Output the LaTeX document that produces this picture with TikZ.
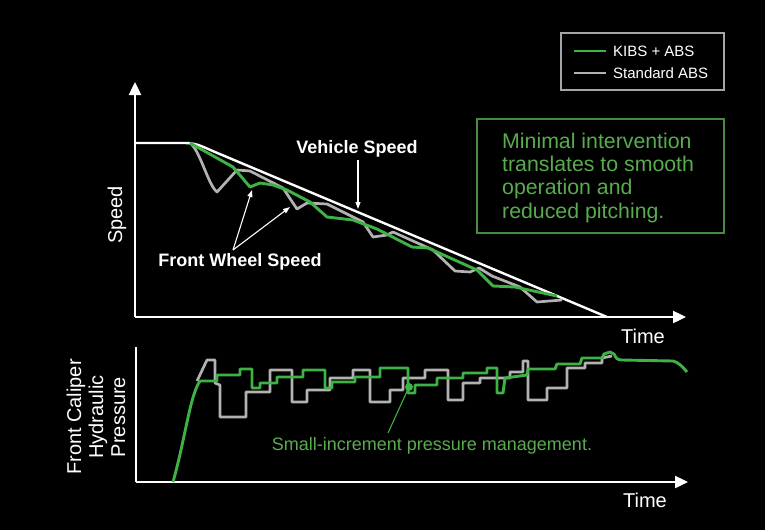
\documentclass[tikz,border=0pt]{standalone}
\usepackage{fontspec}
\setmainfont{Liberation Sans}
\usetikzlibrary{arrows.meta}
\definecolor{kgreen}{RGB}{62,178,68}
\definecolor{tgreen}{RGB}{88,172,78}
\definecolor{bgreen}{RGB}{72,138,66}
\definecolor{sgray}{RGB}{178,178,178}
\definecolor{lgray}{RGB}{165,165,165}
\begin{document}
\begin{tikzpicture}[x=1pt,y=-1pt,
  axisline/.style={white,line width=2.4pt},
  axisarrow/.style={axisline,-{Triangle[length=13pt,width=12pt]}},
  kibs/.style={kgreen,line width=2.9pt,line join=round},
  stdabs/.style={sgray,line width=2.7pt,line join=round},
  vspeed/.style={white,line width=2.4pt,line join=round},
  pointer/.style={white,line width=1.1pt,-{Triangle[length=7pt,width=5pt]}},
  axlabel/.style={text=white,font=\fontsize{20}{22}\selectfont,inner sep=0pt},
  boldlabel/.style={text=white,font=\fontsize{18}{20}\selectfont\bfseries,inner sep=0pt},
  legtext/.style={text=white,font=\fontsize{15}{17}\selectfont,inner sep=0pt,anchor=west},
  notetext/.style={text=tgreen,font=\fontsize{21.3}{23.4}\selectfont,inner sep=0pt,align=left}
]
\useasboundingbox (0,0) rectangle (765,530);
\fill[black] (0,0) rectangle (765,530);

% ---------- upper plot axes
\coordinate (uo) at (135,317);
\coordinate (uy) at (135,82);
\coordinate (ux) at (686,317);
\draw[axisarrow] (uo) -- (uy);
\draw[axisarrow] (uo) -- (ux);
\node[axlabel,rotate=90] (speedlab) at (117,215) {Speed};
\node[axlabel] (utime) at (643,336) {Time};

% vehicle speed
\coordinate (v0) at (135,143);
\coordinate (vend) at (607,317);
\draw[vspeed] (v0) -- (185,143) .. controls (197,143) and (203,147) .. (215,152) -- (vend);

% standard ABS wheel speed
\draw[stdabs] (190,143) .. controls (200,150) and (208,185) .. (217,192) -- (237,170) -- (250,171) -- (283,188) -- (297,209) -- (307,203) -- (327,204) -- (353,217) -- (363,222) -- (373,237) -- (387,235) -- (393,232) -- (433,250) -- (455,271) -- (470,272) -- (479,268) -- (492,276) -- (520,287) -- (537,302) -- (562,300);

% KIBS wheel speed
\draw[kibs] (190,143) -- (233,167) -- (250,187) -- (260,183) -- (273,185) -- (287,190) -- (310,202) -- (327,217) -- (353,220) -- (377,229) -- (412,247) -- (428,248) -- (477,270) -- (493,286) -- (515,287) -- (557,296);

% labels with pointers
\node[boldlabel] (vlab) at (357,149) {Vehicle Speed};
\coordinate (vtip) at (358,209);
\draw[pointer] (vlab.south -| vtip) ++(0,2) -- (vtip);
\node[boldlabel] (fwlab) at (240,262) {Front Wheel Speed};
\coordinate (fwsrc) at (233,250);
\coordinate (fwtipa) at (252,190);
\coordinate (fwtipb) at (290,207);
\draw[pointer] (fwsrc) -- (fwtipa);
\draw[pointer] (fwsrc) -- (fwtipb);

% note box
\node[draw=bgreen,line width=1.3pt,minimum width=247pt,minimum height=114pt,inner sep=0pt] (note) at (600.5,176) {};
\node[notetext,anchor=north west] (notetxt) at (502,132.5) {Minimal intervention\\translates to smooth\\operation and\\reduced pitching.};

% legend
\node[draw=lgray,line width=1.3pt,minimum width=163pt,minimum height=57pt,inner sep=0pt] (legend) at (642.5,61.5) {};
\coordinate (lg1a) at (574,51); \coordinate (lg1b) at (606,51);
\coordinate (lg2a) at (574,73); \coordinate (lg2b) at (606,73);
\draw[kibs,line cap=butt] (lg1a) -- (lg1b);
\draw[stdabs,line cap=butt] (lg2a) -- (lg2b);
\node[legtext] (leg1) at (613,51) {KIBS + ABS};
\node[legtext] (leg2) at (613,73) {Standard ABS};

% ---------- lower plot axes
\coordinate (lo) at (136,482);
\coordinate (ly) at (136,347);
\coordinate (lx) at (688,482);
\draw[axisline] (lo) -- (ly);
\draw[axisarrow] (lo) -- (lx);
\node[axlabel,rotate=90,align=center,font=\fontsize{20}{22}\selectfont] (plab) at (96,417) {Front Caliper\\Hydraulic\\Pressure};
\node[axlabel] (ltime) at (645,500) {Time};

% standard ABS pressure
\draw[stdabs] (197,381) -- (207,360) -- (215,360) -- (215,383) -- (220,385) -- (220,417) -- (246,417) -- (246,392) -- (270,392) -- (270,370) -- (292,370) -- (292,402) -- (307,402) -- (307,390) -- (330,390) -- (330,378) -- (353,378) -- (353,370) -- (370,370) -- (370,402) -- (390,402) -- (390,390) -- (403,390) -- (403,378) -- (425,378) -- (425,370) -- (448,370) -- (448,400) -- (463,400) -- (463,383) -- (480,383) -- (480,378) -- (510,378) -- (510,372) -- (523,372) -- (523,361) -- (528,361) -- (528,400) -- (547,400) -- (547,388) -- (567,388) -- (567,368) -- (585,368) -- (585,363) -- (602,363) -- (602,358) -- (612,356);

% KIBS pressure
\draw[kibs] (173,482) .. controls (185,440) and (190,395) .. (200,381) -- (217,381) -- (217,375) -- (240,375) -- (240,369) -- (252,369) -- (252,388) -- (260,388) -- (260,383) -- (277,383) -- (277,377) -- (303,377) -- (303,370) -- (325,370) -- (325,388) -- (332,388) -- (332,382) -- (355,382) -- (355,377) -- (380,377) -- (380,368) -- (408,368) -- (408,393) -- (415,393) -- (415,385) -- (437,385) -- (437,378) -- (463,378) -- (463,373) -- (487,373) -- (487,368) -- (497,368) -- (497,393) -- (503,393) -- (505,378) -- (527,375) -- (528,369) -- (555,369) -- (557,364) -- (580,364) -- (582,358) -- (602,358) -- (604,354) -- (610,352) -- (614,354) .. controls (616,358) and (617,360) .. (622,360) -- (673,361) .. controls (678,362) and (683,367) .. (687,372);

% annotation
\node[circle,fill=kgreen,inner sep=0pt,minimum size=8pt] (dot) at (409,387) {};
\coordinate (anchorpt) at (388,433);
\draw[kgreen,line width=1.1pt] (dot) -- (anchorpt);
\node[text=tgreen,font=\fontsize{18}{20}\selectfont,inner sep=0pt] (anno) at (432,446) {Small-increment pressure management.};
\end{tikzpicture}
\end{document}
